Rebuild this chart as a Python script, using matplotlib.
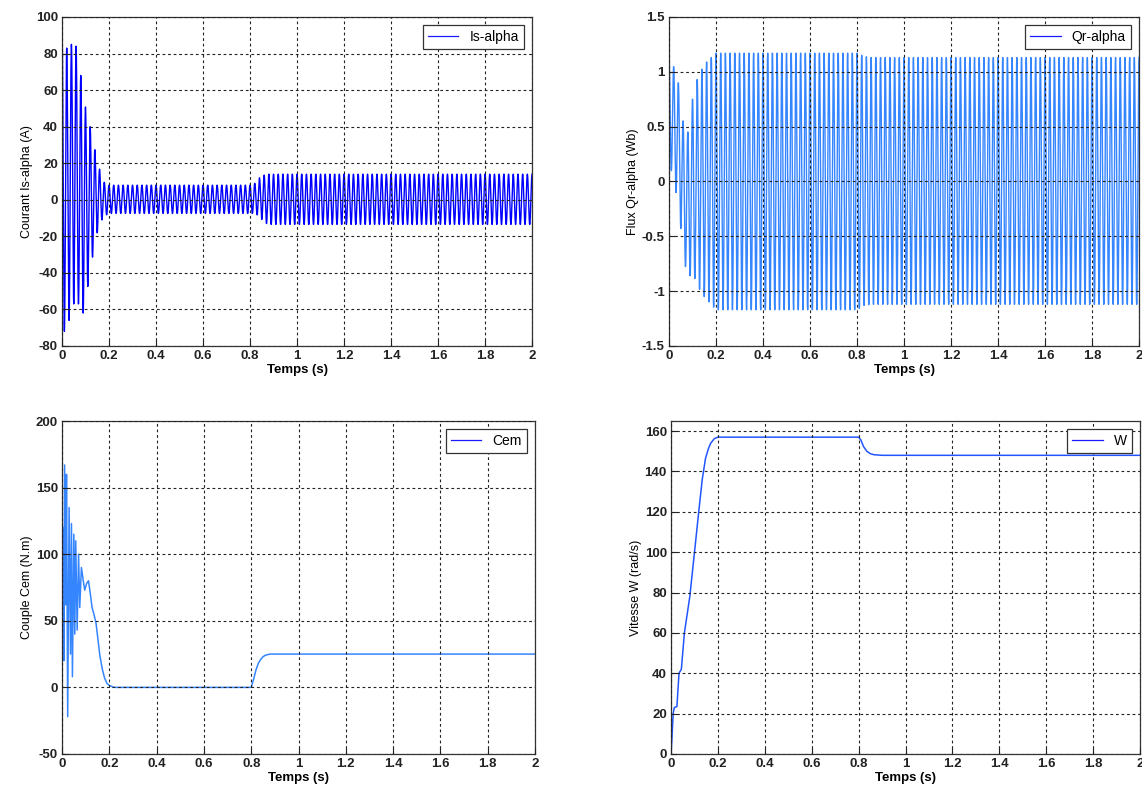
import numpy as np
import matplotlib
matplotlib.use("Agg")
import matplotlib.pyplot as plt

plt.rcParams["font.family"] = ["Liberation Sans", "DejaVu Sans"]

F_SUPPLY = 50.0  # Hz, stator frequency (from ~10 cycles per 0.2 s)

# Is-alpha: upper / lower envelope of the 50 Hz current
is_t = [0, 0.005, 0.015, 0.03, 0.045, 0.06, 0.075, 0.09, 0.105, 0.12, 0.135, 0.15,
        0.165, 0.18, 0.2, 0.8, 0.82, 0.84, 0.86, 0.88, 2.0]
is_up = [92, 92, 83, 83, 86, 84, 72, 60, 46, 40, 30, 22, 14, 9.5, 8, 8, 9, 12, 13.5, 14, 14]
is_lo = [-72, -72, -72, -66, -58, -55, -58, -62, -52, -38, -28, -18, -12, -9, -7.5,
         -7.5, -7.5, -9, -12.5, -13.5, -13.5]

# Qr-alpha: envelope of the rotor flux
qr_t = [0, 0.01, 0.04, 0.06, 0.08, 0.1, 0.12, 0.15, 0.2, 0.8, 0.83, 0.86, 2.0]
qr_up = [1.12, 1.12, 0.9, 0.55, 0.45, 0.75, 0.93, 1.07, 1.17, 1.17, 1.14, 1.13, 1.13]
qr_lo = [0.1, 0.1, -0.2, -0.65, -0.9, -0.82, -0.95, -1.05, -1.17, -1.17, -1.13, -1.12, -1.12]

# Cem: electromagnetic torque
cem_t = [0, 0.005, 0.008, 0.011, 0.016, 0.019, 0.024, 0.030, 0.036, 0.040, 0.044, 0.050,
         0.054, 0.058, 0.064, 0.070, 0.075, 0.082, 0.090, 0.096, 0.104, 0.112, 0.120,
         0.127, 0.135, 0.144, 0.152, 0.160, 0.170, 0.180, 0.190, 0.200, 0.215, 0.225,
         0.8, 0.81, 0.82, 0.83, 0.84, 0.85, 0.86, 0.88, 2.0]
cem_v = [0, 120, 20, 167, 62, 160, -22, 135, 25, 123, 8, 115, 40, 110, 43, 100, 60, 90,
         80, 73, 78, 80, 70, 60, 55, 48, 36, 24, 14, 7, 3, 1.5, 0.3, 0,
         0, 6, 13, 18, 21, 23, 24.2, 25, 25]

# W: rotor speed
w_t = [0, 0.004, 0.009, 0.014, 0.025, 0.034, 0.044, 0.057, 0.08, 0.1, 0.119, 0.133,
       0.147, 0.16, 0.169, 0.185, 0.2, 0.8, 0.81, 0.82, 0.835, 0.85, 0.865, 0.9, 2.0]
w_v = [0, 8, 20, 23, 23.5, 40, 42, 60, 78, 100, 121, 136, 146.5, 151.5, 154, 156.3,
       157, 157, 155.5, 152.5, 150, 148.8, 148.3, 148, 148]

BLUE, LIGHT = "#0000ff", "#3585ff"


def carrier(tk, up, lo, n=4000):
    t = np.linspace(0, 2, n * 2 + 1)
    u = np.interp(t, tk, up)
    l = np.interp(t, tk, lo)
    return t, (u + l) / 2 + (u - l) / 2 * np.sin(2 * np.pi * F_SUPPLY * t + np.pi / 2)


def style(ax, ylim, yticks, ylabel, legend):
    ax.set_xlim(0, 2)
    ax.set_ylim(*ylim)
    ax.set_xticks(np.arange(0, 2.01, 0.2))
    ax.set_xticklabels(["0", "0.2", "0.4", "0.6", "0.8", "1", "1.2", "1.4", "1.6", "1.8", "2"])
    ax.set_yticks(yticks)
    ax.set_yticklabels([f"{v:g}" for v in yticks])
    ax.tick_params(direction="in", length=4, labelsize=9.5, pad=3, colors="#222222")
    for lab in ax.get_xticklabels() + ax.get_yticklabels():
        lab.set_fontweight("bold")
    ax.grid(True, color="#222222", lw=0.8, ls=(0, (2.5, 2.5)))
    ax.set_axisbelow(False)
    ax.set_xlabel("Temps (s)", fontsize=9.5, fontweight="bold", labelpad=1)
    ax.set_ylabel(ylabel, fontsize=9, labelpad=2)
    for sp in ax.spines.values():
        sp.set_color("#333333")
        sp.set_linewidth(0.9)
    leg = ax.legend([legend], loc="upper right", fontsize=10, fancybox=False,
                    edgecolor="#333333", framealpha=1, borderaxespad=0.6,
                    handlelength=2.2, borderpad=0.35)
    leg.get_frame().set_linewidth(0.9)
    leg.get_lines()[0].set_color("#1a1aff")
    leg.get_lines()[0].set_linewidth(0.9)


fig = plt.figure(figsize=(11.42, 7.89), dpi=100)
ax1 = fig.add_axes([0.0543, 0.5615, 0.4116, 0.417])
ax2 = fig.add_axes([0.5858, 0.5615, 0.4116, 0.417])
ax3 = fig.add_axes([0.0543, 0.0444, 0.4142, 0.422])
ax4 = fig.add_axes([0.5876, 0.0444, 0.4107, 0.422])

t, s = carrier(is_t, is_up, is_lo)
ax1.plot(t, s, color=BLUE, lw=1.0)
style(ax1, (-80, 100), np.arange(-80, 101, 20), "Courant Is-alpha (A)", "Is-alpha")

t, s = carrier(qr_t, qr_up, qr_lo)
ax2.plot(t, s, color=LIGHT, lw=1.0)
style(ax2, (-1.5, 1.5), np.arange(-1.5, 1.51, 0.5), "Flux Qr-alpha (Wb)", "Qr-alpha")

ax3.plot(cem_t, cem_v, color=LIGHT, lw=1.1)
style(ax3, (-50, 200), np.arange(-50, 201, 50), "Couple Cem (N.m)", "Cem")

ax4.plot(w_t, w_v, color="#2255ff", lw=1.1)
style(ax4, (0, 165), np.arange(0, 161, 20), "Vitesse W (rad/s)", "W")

fig.savefig("out.png", dpi=100, facecolor="white")
